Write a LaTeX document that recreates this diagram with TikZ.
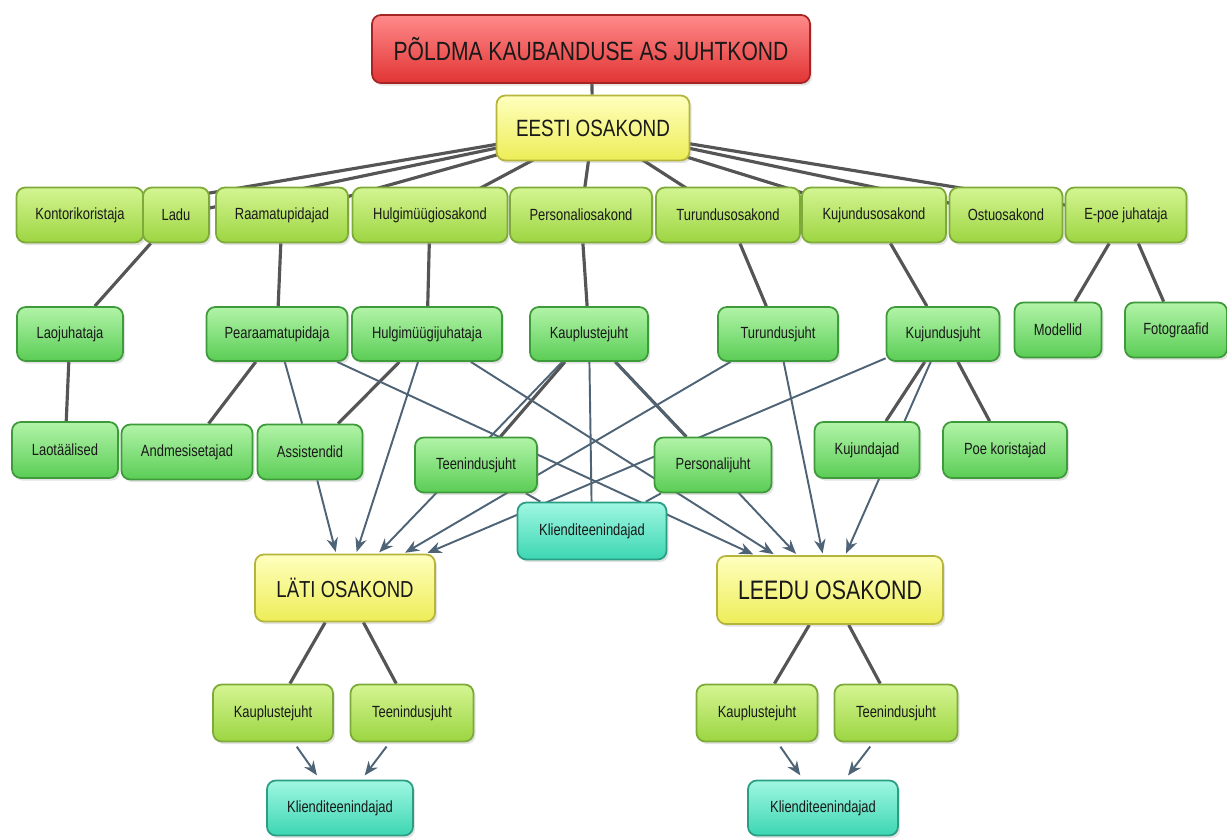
\documentclass[tikz,border=0pt]{standalone}
\usepackage{fontspec}
\setmainfont{Liberation Sans}[FakeStretch=0.8]
\usetikzlibrary{arrows.meta,backgrounds,shadows}

\definecolor{redtop}{HTML}{FF8A8A}
\definecolor{redbot}{HTML}{E23434}
\definecolor{redline}{HTML}{A52525}
\definecolor{yeltop}{HTML}{FFFFBE}
\definecolor{yelbot}{HTML}{EDED58}
\definecolor{yelline}{HTML}{B5B53C}
\definecolor{limetop}{HTML}{D4F592}
\definecolor{limebot}{HTML}{9CD541}
\definecolor{limeline}{HTML}{7DAA38}
\definecolor{greentop}{HTML}{B2F4A8}
\definecolor{greenbot}{HTML}{5ACD55}
\definecolor{greenline}{HTML}{3E9A3A}
\definecolor{tealtop}{HTML}{A0F7E2}
\definecolor{tealbot}{HTML}{3CD6B2}
\definecolor{tealline}{HTML}{2A9E84}
\definecolor{linkgray}{HTML}{555555}
\definecolor{flowblue}{HTML}{4E6476}

\tikzset{
  box/.style={rounded corners=5pt, line width=1pt, inner sep=0pt, text=black!90,
    font=\fontsize{9.2}{10}\selectfont,
    drop shadow={shadow xshift=1.2pt,shadow yshift=-1.5pt,opacity=0.22}},
  dim/.style 2 args={minimum width=#1cm, minimum height=#2cm},
  redbox/.style={box, draw=redline, top color=redtop, bottom color=redbot},
  yelbox/.style={box, draw=yelline, top color=yeltop, bottom color=yelbot},
  limebox/.style={box, draw=limeline, top color=limetop, bottom color=limebot},
  greenbox/.style={box, draw=greenline, top color=greentop, bottom color=greenbot},
  tealbox/.style={box, draw=tealline, top color=tealtop, bottom color=tealbot},
  link/.style={draw=linkgray, line width=1.8pt},
  thin/.style={draw=flowblue, line width=1.1pt},
  flow/.style={thin, ->, shorten >=1pt}
}

\begin{document}
\begin{tikzpicture}[x=0.02cm,y=-0.02cm, >={Stealth[length=8pt,width=6.5pt]}]
  \useasboundingbox (0,0) rectangle (1227,838);

  % top
  \node[redbox, dim={8.76}{1.36}, font=\fontsize{15}{17}\selectfont] (juhtkond) at (591,49) {PÕLDMA KAUBANDUSE AS JUHTKOND};
  \node[yelbox, dim={3.86}{1.30}, font=\fontsize{13.4}{15}\selectfont] (eesti) at (593,128) {EESTI OSAKOND};

  % osakonnad
  \node[limebox, dim={2.54}{1.10}] (kontor) at (80,215) {Kontorikoristaja};
  \node[limebox, dim={1.32}{1.10}] (ladu) at (176,215) {Ladu};
  \node[limebox, dim={2.64}{1.10}] (raamat) at (282,215) {Raamatupidajad};
  \node[limebox, dim={3.10}{1.10}] (hulgi) at (430,215) {Hulgimüügiosakond};
  \node[limebox, dim={2.84}{1.10}] (personal) at (581,215) {Personaliosakond};
  \node[limebox, dim={2.88}{1.10}] (turundus) at (728,215) {Turundusosakond};
  \node[limebox, dim={2.88}{1.10}] (kujundus) at (874,215) {Kujundusosakond};
  \node[limebox, dim={2.26}{1.10}] (ostu) at (1006,215) {Ostuosakond};
  \node[limebox, dim={2.42}{1.10}] (epoe) at (1126,215) {E-poe juhataja};

  % juhid
  \node[greenbox, dim={2.12}{1.08}] (laojuht) at (70,334) {Laojuhataja};
  \node[greenbox, dim={2.82}{1.08}] (pearaamat) at (277,334) {Pearaamatupidaja};
  \node[greenbox, dim={3.00}{1.08}] (hulgijuht) at (427,334) {Hulgimüügijuhataja};
  \node[greenbox, dim={2.36}{1.08}] (kauplus) at (589,334) {Kauplustejuht};
  \node[greenbox, dim={2.40}{1.08}] (turjuht) at (778,334) {Turundusjuht};
  \node[greenbox, dim={2.26}{1.08}] (kujjuht) at (943,334) {Kujundusjuht};
  \node[greenbox, dim={1.74}{1.10}] (modellid) at (1058,330) {Modellid};
  \node[greenbox, dim={2.04}{1.10}] (foto) at (1176,330) {Fotograafid};

  % töötajad
  \node[greenbox, dim={2.12}{1.12}] (laot) at (65,450) {Laotäälised};
  \node[greenbox, dim={2.62}{1.10}] (andmed) at (187,452) {Andmesisetajad};
  \node[greenbox, dim={2.10}{1.10}] (assist) at (310,452) {Assistendid};
  \node[greenbox, dim={2.44}{1.10}] (teenjuht) at (476,465) {Teenindusjuht};
  \node[greenbox, dim={2.34}{1.10}] (persjuht) at (713,465) {Personalijuht};
  \node[greenbox, dim={2.10}{1.12}] (kujundajad) at (867,450) {Kujundajad};
  \node[greenbox, dim={2.48}{1.12}] (poekor) at (1005,450) {Poe koristajad};
  \node[tealbox, dim={2.98}{1.14}] (klient) at (592,531) {Klienditeenindajad};

  % Läti ja Leedu
  \node[yelbox, dim={3.60}{1.34}, font=\fontsize{13.2}{15}\selectfont] (lati) at (345,588) {LÄTI OSAKOND};
  \node[yelbox, dim={4.52}{1.36}, font=\fontsize{15.2}{17}\selectfont] (leedu) at (830,590) {LEEDU OSAKOND};
  \node[limebox, dim={2.40}{1.14}] (lkaup) at (273,713) {Kauplustejuht};
  \node[limebox, dim={2.46}{1.14}] (lteen) at (412,713) {Teenindusjuht};
  \node[tealbox, dim={2.92}{1.10}] (lklient) at (340,808) {Klienditeenindajad};
  \node[limebox, dim={2.42}{1.14}] (ekaup) at (757,713) {Kauplustejuht};
  \node[limebox, dim={2.46}{1.14}] (eteen) at (896,713) {Teenindusjuht};
  \node[tealbox, dim={3.00}{1.10}] (eklient) at (823,808) {Klienditeenindajad};

  \begin{scope}[on background layer]
    \draw[link] (juhtkond) -- (eesti);
    \foreach \n in {kontor,ladu,raamat,hulgi,personal,turundus,kujundus,ostu,epoe}
      \draw[link] (eesti.center) -- (\n.center);
    \draw[link] (ladu) -- (laojuht);
    \draw[link] (laojuht) -- (laot);
    \draw[link] (raamat) -- (pearaamat);
    \draw[link] (hulgi) -- (hulgijuht);
    \draw[link] (personal) -- (kauplus);
    \draw[link] (turundus) -- (turjuht);
    \draw[link] (kujundus) -- (kujjuht);
    \draw[link] (epoe) -- (modellid);
    \draw[link] (epoe) -- (foto);
    \draw[link] (pearaamat) -- (andmed);
    \draw[link] (hulgijuht) -- (assist);
    \draw[link] (kauplus) -- (teenjuht);
    \draw[link] (kauplus) -- (persjuht);
    \draw[link] (kujjuht) -- (kujundajad);
    \draw[link] (kujjuht) -- (poekor);
    \draw[link] (lati) -- (lkaup);
    \draw[link] (lati) -- (lteen);
    \draw[link] (leedu) -- (ekaup);
    \draw[link] (leedu) -- (eteen);
    \draw[thin] (pearaamat) -- (assist);
    \draw[thin] (kauplus) -- (klient);
    \draw[thin] (teenjuht) -- (klient);
    \draw[thin] (persjuht) -- (klient);
    % nooled
    \foreach \n in {assist,hulgijuht,kauplus,turjuht,kujjuht}
      \draw[flow] (\n) -- (lati);
    \foreach \n in {pearaamat,hulgijuht,kauplus,turjuht,kujjuht}
      \draw[flow] (\n) -- (leedu);
    \draw[flow, shorten <=3pt, shorten >=3pt] (lkaup) -- (lklient);
    \draw[flow, shorten <=3pt, shorten >=3pt] (lteen) -- (lklient);
    \draw[flow, shorten <=3pt, shorten >=3pt] (ekaup) -- (eklient);
    \draw[flow, shorten <=3pt, shorten >=3pt] (eteen) -- (eklient);
  \end{scope}
\end{tikzpicture}
\end{document}
